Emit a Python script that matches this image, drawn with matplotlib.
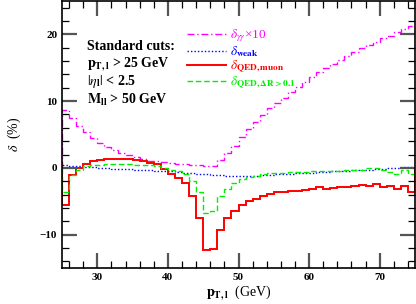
import numpy as np
import matplotlib
matplotlib.use('Agg')
import matplotlib.pyplot as plt

plt.rcParams['mathtext.fontset'] = 'stix'
plt.rcParams['font.family'] = 'Liberation Serif'

# bin edges in pT (GeV), 1 GeV bins
pt_edges = np.arange(25, 76, 1)

# delta_gamma-gamma x 10 (%)
d_gg = [8.7, 7.45, 6.2, 5.3, 4.5, 3.8, 3.2, 2.7, 2.3, 1.9,
        1.6, 1.3, 1.1, 1.0, 0.85, 0.75, 0.65, 0.55, 0.5, 0.4,
        0.35, 0.35, 1.2, 2.2, 3.3, 4.6, 5.8, 6.9, 7.9, 8.9,
        9.7, 10.5, 11.3, 12.1, 12.9, 13.6, 14.3, 15.0, 15.6, 16.2,
        16.8, 17.4, 17.9, 18.4, 18.9, 19.4, 19.8, 20.3, 20.8, 21.3]

# delta_weak (%)
d_weak = [0.45, 0.35, 0.25, 0.15, 0.1, 0.0, -0.05, -0.1, -0.15, -0.2,
          -0.25, -0.3, -0.35, -0.4, -0.45, -0.5, -0.6, -0.7, -0.8, -0.85,
          -0.95, -1.0, -1.1, -1.15, -1.2, -1.2, -1.2, -1.15, -1.1, -1.0,
          -0.95, -0.9, -0.85, -0.8, -0.75, -0.7, -0.6, -0.55, -0.5, -0.45,
          -0.4, -0.35, -0.3, -0.25, -0.2, -0.1, -0.05, 0.0, 0.1, 0.15]

# delta_QED, muon (%)
d_muon = [-5.5, -1.1, 0.0, 0.6, 1.1, 1.25, 1.35, 1.4, 1.4, 1.3,
          1.2, 1.0, 0.8, 0.55, -0.2, -0.85, -1.5, -2.3, -4.2, -7.5,
          -12.3, -12.1, -9.3, -7.5, -6.4, -5.6, -5.0, -4.6, -4.2, -3.9,
          -3.6, -3.6, -3.5, -3.4, -3.25, -3.1, -2.9, -3.1, -3.0, -2.9,
          -2.85, -2.75, -2.5, -2.65, -2.4, -2.85, -2.75, -3.2, -2.65, -3.6]

# delta_QED, dR > 0.1 (%)
d_dr = [-3.6, -1.1, -0.3, 0.3, 0.5, 0.5, 0.55, 0.55, 0.55, 0.55,
        0.5, 0.45, 0.4, 0.3, 0.0, -0.3, -0.5, -0.85, -1.9, -3.6,
        -6.7, -6.5, -4.2, -3.1, -2.25, -1.65, -1.35, -1.15, -0.95, -0.8,
        -0.75, -0.7, -0.6, -0.6, -0.55, -0.5, -0.45, -0.45, -0.4, -0.4,
        -0.3, -0.3, -0.25, 0.0, 0.0, -0.3, -0.6, -0.9, -0.35, -0.9]

fig = plt.figure(figsize=(4.16, 3.04), dpi=100)
ax = fig.add_axes([62/416, 36/304, 353/416, 267/304])

ax.stairs(d_gg, pt_edges, color='#ff00ff', lw=1.0, ls=(0, (5, 2, 1, 2)),
          label=r'$\delta_{\gamma\gamma}$' + '\u00d710')
ax.stairs(d_weak, pt_edges, color='#0000ff', lw=1.0, ls=(0, (1, 1.5)),
          label=r'$\delta_{\mathbf{weak}}$')
ax.stairs(d_muon, pt_edges, color='#ff0000', lw=1.4,
          label=r'$\delta_{\mathbf{QED,muon}}$')
ax.stairs(d_dr, pt_edges, color='#00ee00', lw=1.0, ls=(0, (4, 2)),
          label=r'$\delta_{\mathbf{QED,\Delta R>0.1}}$')

ax.set_xlim(25, 75)
ax.set_ylim(-15, 25)
ax.set_xticks([30, 40, 50, 60, 70])
ax.set_xticks(np.arange(26, 75, 2), minor=True)
ax.set_yticks([-10, 0, 10, 20])
ax.set_yticks(np.arange(-14, 25, 2), minor=True)
ax.tick_params(which='both', direction='in', top=True, right=True)
ax.tick_params(which='major', length=11, width=1.6, color='#555555',
               labelsize=8)
ax.tick_params(which='minor', length=5, width=0.9)
for lab in ax.get_xticklabels() + ax.get_yticklabels():
    lab.set_fontweight('bold')
for sp in ax.spines.values():
    sp.set_linewidth(1.2)

ax.set_xlabel(r'$\mathbf{p_{T,l}}$  (GeV)', fontsize=10, labelpad=1)
ax.set_ylabel(r'$\delta$  (%)', fontsize=10, labelpad=12)

leg = ax.legend(loc='upper left', bbox_to_anchor=(0.335, 0.925), frameon=False,
                fontsize=9.5, handlelength=3.0, handletextpad=0.3,
                labelspacing=0.0, borderpad=0, labelcolor='linecolor')

cuts = ['Standard cuts:',
        r'$\mathbf{p_{T,l}}$ > 25 GeV',
        r'$|\eta_{\mathbf{l}}|$ < 2.5',
        r'$\mathbf{M_{ll}}$ > 50 GeV']
ypos = [0.831, 0.764, 0.700, 0.629]
for s, y in zip(cuts, ypos):
    ax.text(0.071, y, s, transform=ax.transAxes, fontsize=10,
            fontweight='bold', va='center', ha='left')

fig.savefig('out.png', dpi=100)
